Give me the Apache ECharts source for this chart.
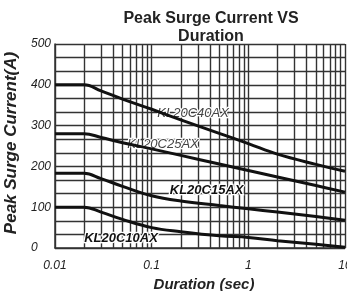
<!DOCTYPE html>
<html>
<head>
<meta charset="utf-8">
<script src="https://cdn.jsdelivr.net/npm/echarts@6/dist/echarts.min.js"></script>
<style>
html,body{margin:0;padding:0;background:#fff;}
#c{width:347px;height:291px;}
</style>
</head>
<body>
<div id="c"></div>
<script>
// Data
var durations = [0.01, 0.02, 0.03, 0.05, 0.1, 0.2, 0.5, 1, 2, 5, 10];
var kl40 = [400, 400, 385, 365, 340, 314, 281, 256, 230, 205, 188];
var kl25 = [280, 280, 271, 258, 243, 227, 206, 190, 174, 153, 137];
var kl15 = [183, 183, 170, 151, 128, 115, 104, 96, 88, 77, 68];
var kl10 = [100, 100, 88, 70, 50, 40, 30, 26, 18, 9, 2];
var seriesNames = ['KL20C40AX', 'KL20C25AX', 'KL20C15AX', 'KL20C10AX'];
var labelX = [0.268, 0.131, 0.37, 0.0482];
var labelY = [331, 255, 142, 24];
var xTickLabels = ['0.01', '0.1', '1', '10'];
var yTickLabels = ['0', '100', '200', '300', '400', '500'];

var FONT = '"Liberation Sans", Arial, sans-serif';
var gridColor = '#333';

// minor vertical grid positions (2..9 in each decade)
var minorX = [];
[0.01, 0.1, 1].forEach(function (d) {
  for (var k = 2; k <= 9; k++) minorX.push(+(d * k).toPrecision(3));
});

function pairs(vals) {
  return durations.map(function (d, i) { return [d, vals[i]]; });
}
var allVals = [kl40, kl25, kl15, kl10];
var labelStyles = [
  {fontWeight: 'normal', color: '#444'},
  {fontWeight: 'normal', color: '#444'},
  {fontWeight: 'bold', color: '#111'},
  {fontWeight: 'bold', color: '#111'}
];

var series = [{
  type: 'line', data: [], silent: true, z: 1,
  markLine: {
    silent: true, symbol: 'none', animation: false,
    label: {show: false},
    lineStyle: {color: gridColor, width: 1.4, type: 'solid'},
    data: minorX.map(function (v) { return {xAxis: v}; })
  }
}];
allVals.forEach(function (vals, i) {
  series.push({
    name: seriesNames[i], type: 'line', data: pairs(vals), z: 5,
    smooth: 0.4, symbol: 'none', animation: false,
    lineStyle: {color: '#111', width: 3},
    markPoint: {
      symbol: 'rect', symbolSize: 0, animation: false, silent: true,
      data: [{coord: [labelX[i], labelY[i]]}],
      label: {
        show: true, position: 'inside', formatter: seriesNames[i],
        fontFamily: FONT, fontStyle: 'italic', fontSize: 13,
        fontWeight: labelStyles[i].fontWeight, color: labelStyles[i].color,
        textBorderColor: '#fff', textBorderWidth: 2.5
      }
    }
  });
});

var chart = echarts.init(document.getElementById('c'), null, {renderer: 'canvas'});
chart.setOption({
  animation: false,
  backgroundColor: '#fff',
  title: {
    text: 'Peak Surge Current VS\nDuration',
    left: 206, top: 5, textAlign: 'center',
    textStyle: {fontFamily: FONT, fontWeight: 'bold', fontSize: 16, lineHeight: 18, color: '#222'}
  },
  grid: {left: 55, right: 2, top: 44, bottom: 43, containLabel: false, outerBoundsMode: 'none'},
  xAxis: {
    type: 'log', logBase: 10, min: 0.01, max: 10,
    name: 'Duration (sec)', nameLocation: 'middle', nameGap: 28,
    nameTextStyle: {fontFamily: FONT, fontStyle: 'italic', fontWeight: 'bold', fontSize: 15, color: '#222', padding: [0, 0, 0, 8]},
    axisLine: {show: true, lineStyle: {color: gridColor, width: 1.5}},
    axisTick: {show: false},
    axisLabel: {
      fontFamily: FONT, fontStyle: 'italic', fontSize: 12, color: '#222', margin: 12,
      formatter: function (v) {
        var idx = Math.round(Math.log10(v) + 2);
        return xTickLabels[idx] !== undefined ? xTickLabels[idx] : '';
      }
    },
    splitLine: {show: true, lineStyle: {color: gridColor, width: 1.4}}
  },
  yAxis: {
    type: 'value', min: 0, max: 500, interval: 100,
    name: 'Peak Surge Current(A)', nameLocation: 'middle', nameGap: 34, nameRotate: 90,
    nameTextStyle: {fontFamily: FONT, fontStyle: 'italic', fontWeight: 'bold', fontSize: 17, color: '#222', padding: [0, 0, 0, 6]},
    axisLine: {show: true, lineStyle: {color: gridColor, width: 1.5}},
    axisTick: {show: false},
    axisLabel: {
      fontFamily: FONT, fontStyle: 'italic', fontSize: 12, color: '#222', margin: 24, align: 'left',
      formatter: function (v) { return yTickLabels[Math.round(v / 100)]; }
    },
    splitLine: {show: true, lineStyle: {color: gridColor, width: 1.4}},
    minorTick: {show: false, splitNumber: 3},
    minorSplitLine: {show: true, lineStyle: {color: gridColor, width: 1.4}}
  },
  series: series
});
</script>
</body>
</html>
